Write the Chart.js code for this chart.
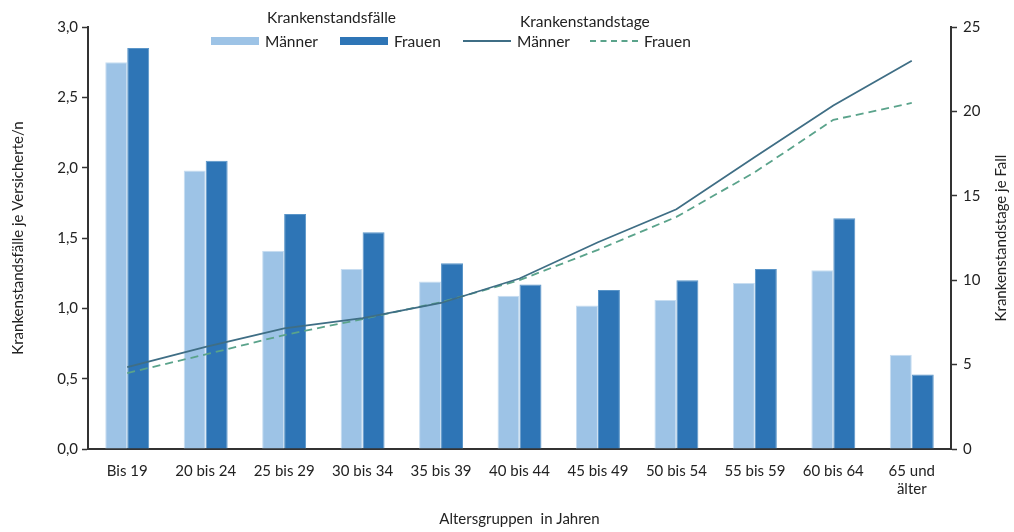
<!DOCTYPE html>
<html lang="de">
<head>
<meta charset="utf-8">
<script src="https://cdn.jsdelivr.net/npm/chart.js@4/dist/chart.umd.min.js"></script>
<style>
  html, body { margin: 0; padding: 0; background: #fff; }
  #wrap { position: relative; width: 1014px; height: 532px; font-family: Lato, "Noto Sans", sans-serif; color: #222; }
  #legend { position: absolute; left: 0; top: 0; width: 1014px; height: 60px; pointer-events: none; }
  .lg-title { position: absolute; font-size: 15.5px; white-space: nowrap; }
  .lg-item { position: absolute; font-size: 15.5px; white-space: nowrap; display: flex; align-items: center; }
  .sw { display: inline-block; width: 48px; margin-right: 6px; }
</style>
</head>
<body>
<div id="wrap">
  <canvas id="chart" width="1014" height="532"></canvas>
  <div id="legend"></div>
</div>
<script>
const categories = ["Bis 19", "20 bis 24", "25 bis 29", "30 bis 34", "35 bis 39", "40 bis 44",
  "45 bis 49", "50 bis 54", "55 bis 59", "60 bis 64", ["65 und", "älter"]];

// Krankenstandsfälle je Versicherte/n
const faelleMaenner = [2.75, 1.98, 1.41, 1.28, 1.19, 1.09, 1.02, 1.06, 1.18, 1.27, 0.67];
const faelleFrauen = [2.85, 2.05, 1.67, 1.54, 1.32, 1.17, 1.13, 1.20, 1.28, 1.64, 0.53];

// Krankenstandstage je Fall
const tageMaenner = [4.85, 6.05, 7.15, 7.75, 8.65, 10.1, 12.25, 14.2, 17.3, 20.35, 23.0];
const tageFrauen = [4.5, 5.6, 6.75, 7.7, 8.7, 10.0, 11.8, 13.75, 16.4, 19.5, 20.5];

const titleLeft = "Krankenstandsfälle je Versicherte/n";
const titleRight = "Krankenstandstage je Fall";

const colMaennerBar = "#9dc3e6";
const colFrauenBar = "#2e75b6";
const colMaennerLine = "#3f6e85";
const colFrauenLine = "#5aa38b";

const fontFamily = "Lato, 'Noto Sans', sans-serif";
const tickFont = { family: fontFamily, size: 15 };

// vertical axis titles, both reading bottom to top
const axisTitles = {
  id: "axisTitles",
  afterDraw(chart) {
    const c = chart.ctx;
    const area = chart.chartArea;
    const mid = (area.top + area.bottom) / 2;
    c.save();
    c.fillStyle = "#222";
    c.font = "15px " + fontFamily;
    c.textAlign = "center";
    c.textBaseline = "middle";
    [[18, titleLeft], [1001, titleRight]].forEach(([x, text]) => {
      c.save();
      c.translate(x, mid);
      c.rotate(-Math.PI / 2);
      c.fillText(text, 0, 0);
      c.restore();
    });
    c.restore();
  }
};

const ctx = document.getElementById("chart");

const chart = new Chart(ctx, {
  type: "bar",
  data: {
    labels: categories,
    datasets: [
      {
        type: "line",
        label: "Männer",
        group: "Krankenstandstage",
        data: tageMaenner,
        yAxisID: "y1",
        borderColor: colMaennerLine,
        borderWidth: 1.8,
        pointRadius: 0,
        tension: 0,
        order: 0
      },
      {
        type: "line",
        label: "Frauen",
        group: "Krankenstandstage",
        data: tageFrauen,
        yAxisID: "y1",
        borderColor: colFrauenLine,
        borderWidth: 1.8,
        borderDash: [8, 5],
        pointRadius: 0,
        tension: 0,
        order: 0
      },
      {
        label: "Männer",
        group: "Krankenstandsfälle",
        data: faelleMaenner,
        yAxisID: "y",
        backgroundColor: colMaennerBar,
        borderColor: "#c7ddf1",
        borderWidth: { top: 1, left: 1, right: 1, bottom: 0 },
        categoryPercentage: 0.56,
        barPercentage: 1.0,
        order: 1
      },
      {
        label: "Frauen",
        group: "Krankenstandsfälle",
        data: faelleFrauen,
        yAxisID: "y",
        backgroundColor: colFrauenBar,
        borderColor: "#5a95c8",
        borderWidth: { top: 1, left: 1, right: 1, bottom: 0 },
        categoryPercentage: 0.56,
        barPercentage: 1.0,
        order: 1
      }
    ]
  },
  options: {
    responsive: false,
    animation: false,
    layout: { padding: { top: 27, left: 0, right: 0, bottom: 0 } },
    plugins: {
      legend: { display: false },
      tooltip: { enabled: false }
    },
    scales: {
      x: {
        grid: { display: false, drawTicks: false },
        border: { color: "#333", width: 2 },
        ticks: { color: "#222", font: tickFont, padding: 13, maxRotation: 0, autoSkip: false },
        title: { display: true, text: "Altersgruppen  in Jahren", color: "#222", font: tickFont, padding: { top: 12 } },
        afterFit: (s) => { s.height = 83; }
      },
      y: {
        position: "left",
        min: 0,
        max: 3,
        grid: { drawOnChartArea: false, tickLength: 6, color: "#333", tickWidth: 1.5 },
        border: { color: "#333", width: 2 },
        ticks: {
          stepSize: 0.5,
          color: "#222",
          font: tickFont,
          padding: 4,
          callback: (v) => v.toFixed(1).replace(".", ",")
        },
        afterFit: (s) => { s.width = 88; }
      },
      y1: {
        position: "right",
        min: 0,
        max: 25,
        grid: { drawOnChartArea: false, tickLength: 6, color: "#333", tickWidth: 1.5 },
        border: { color: "#333", width: 2 },
        ticks: { stepSize: 5, color: "#222", font: tickFont, padding: 6 },
        afterFit: (s) => { s.width = 63; }
      }
    }
  },
  plugins: [axisTitles]
});

// custom grouped legend built from the datasets
const legendLayout = {
  "Krankenstandsfälle": { titleX: 267, titleY: 8, items: [211, 340] },
  "Krankenstandstage": { titleX: 520, titleY: 12, items: [463, 590] }
};
const legendEl = document.getElementById("legend");
Object.keys(legendLayout).forEach((group) => {
  const pos = legendLayout[group];
  const t = document.createElement("div");
  t.className = "lg-title";
  t.style.left = pos.titleX + "px";
  t.style.top = pos.titleY + "px";
  t.textContent = group;
  legendEl.appendChild(t);
  const ds = chart.data.datasets.filter((d) => d.group === group);
  ds.forEach((d, i) => {
    const item = document.createElement("div");
    item.className = "lg-item";
    item.style.left = pos.items[i] + "px";
    item.style.top = "32px";
    const sw = document.createElement("span");
    sw.className = "sw";
    if (d.type === "line") {
      sw.style.height = "0";
      sw.style.borderTop = "2px " + (d.borderDash ? "dashed " : "solid ") + d.borderColor;
    } else {
      sw.style.height = "8px";
      sw.style.background = d.backgroundColor;
    }
    item.appendChild(sw);
    const lbl = document.createElement("span");
    lbl.textContent = d.label;
    item.appendChild(lbl);
    legendEl.appendChild(item);
  });
});
</script>
</body>
</html>
